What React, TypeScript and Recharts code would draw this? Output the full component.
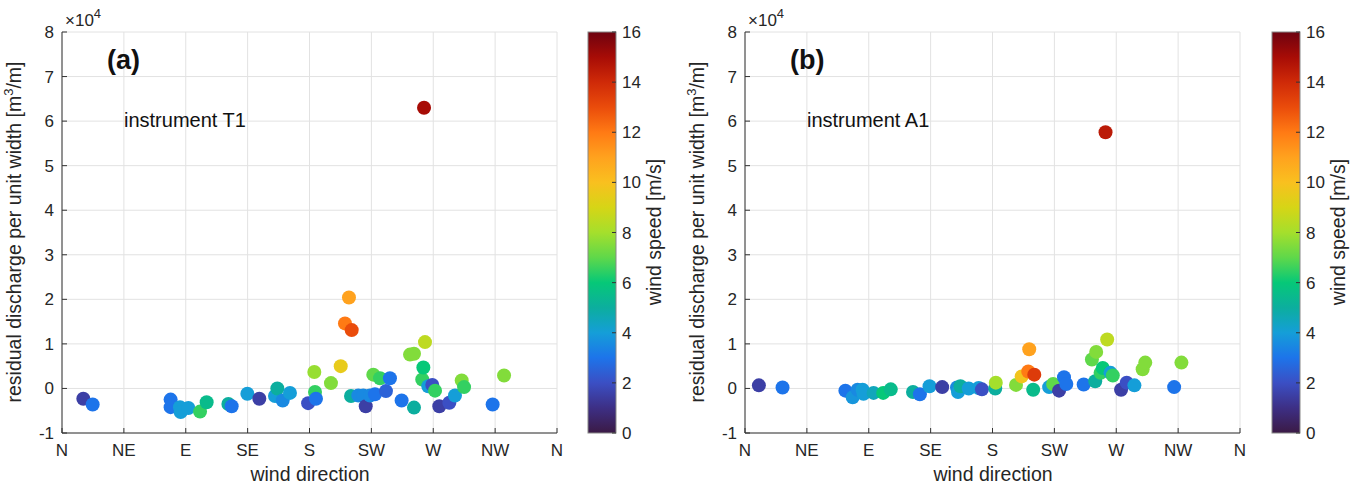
import React from 'react';
import { ScatterChart, Scatter, XAxis, YAxis, CartesianGrid } from 'recharts';

// wind direction axis
const dirTicks = [0, 45, 90, 135, 180, 225, 270, 315, 360];
const dirLabels = ['N', 'NE', 'E', 'SE', 'S', 'SW', 'W', 'NW', 'N'];
const qTicks = [-1, 0, 1, 2, 3, 4, 5, 6, 7, 8];
const speedTicks = [0, 2, 4, 6, 8, 10, 12, 14, 16];

// instrument T1: direction [deg], discharge [x1e4 m3/m], wind speed [m/s]
const t1Dir = [15.5, 22.3, 79, 79, 85.8, 86.3, 91.9, 100.4, 105.2, 121, 123.4, 134.8, 143.5, 154.9, 156.6, 160.5, 165.8, 179, 183.5, 184, 184.7, 195.6, 202.7, 205.8, 208.7, 210.7, 210.2, 215.5, 219.1, 220.9, 224, 226.4, 227.6, 231.3, 235.6, 238.5, 247, 253.1, 256, 256, 262, 262.8, 264, 266.4, 269.3, 271.3, 274.4, 281.7, 285.8, 290.7, 292.4, 313.2, 321.5, 263.3];
const t1Q = [-0.23, -0.36, -0.25, -0.42, -0.42, -0.53, -0.44, -0.52, -0.31, -0.35, -0.4, -0.12, -0.23, -0.17, 0.0, -0.27, -0.1, -0.33, 0.37, -0.08, -0.23, 0.12, 0.5, 1.46, 2.04, 1.31, -0.17, -0.16, -0.16, -0.4, -0.16, 0.31, -0.13, 0.23, -0.06, 0.23, -0.27, 0.76, 0.78, -0.43, 0.2, 0.47, 1.04, 0.05, 0.08, -0.05, -0.4, -0.32, -0.16, 0.18, 0.03, -0.36, 0.29, 6.3];
const t1Wind = [1.5, 3, 3, 3, 4, 4, 4, 6.5, 5.5, 5, 3, 4, 1.5, 4, 5, 3.5, 4, 2, 7.8, 6.5, 3, 7.5, 9.5, 12, 11, 13, 5, 3.5, 3.5, 1.5, 3.5, 7, 3, 6.5, 2.5, 3, 3, 7.5, 7.5, 5, 6.5, 6, 8.5, 4, 2, 6.5, 1.5, 2, 4, 7.5, 6.5, 3, 7.5, 15];

// instrument A1
const a1Dir = [10.1, 27.3, 73, 78.3, 81.9, 85.5, 86.2, 93.5, 100.5, 106, 122.2, 127.2, 134.2, 143.4, 154.2, 154.9, 156.7, 162.7, 169.9, 172.3, 182, 182.4, 197.1, 201.2, 206, 206.7, 210.4, 209.6, 221.2, 224.1, 228.4, 232, 233.7, 246.3, 252.3, 254.7, 255.4, 258.6, 260.2, 263.4, 265.8, 267.5, 273.5, 277.6, 283.2, 289.2, 291.1, 312.1, 317.4, 262.2];
const a1Q = [0.07, 0.02, -0.05, -0.2, -0.03, -0.03, -0.12, -0.1, -0.1, -0.02, -0.08, -0.13, 0.05, 0.03, 0.02, -0.08, 0.05, 0.0, 0.01, -0.02, 0.0, 0.13, 0.08, 0.27, 0.38, 0.88, 0.31, -0.03, 0.03, 0.1, -0.05, 0.25, 0.1, 0.09, 0.65, 0.16, 0.82, 0.35, 0.46, 1.1, 0.35, 0.29, -0.03, 0.13, 0.07, 0.43, 0.58, 0.03, 0.58, 5.75];
const a1Wind = [1.5, 3, 3, 3.8, 3.5, 4, 4, 4.5, 6, 5.5, 5, 3, 4, 1.5, 3.5, 4, 5, 4, 4, 2, 5, 8, 7.5, 9.8, 12, 11, 13.5, 5.5, 4, 7, 1.5, 3, 3, 3, 7, 5, 7.5, 6.5, 6, 8.5, 4, 6.5, 1.5, 2, 4, 7.5, 7.5, 3, 7.5, 14.5];

// colormap, one colour per 1 m/s from 0 to 16
const cmap = ['#3b1a45', '#3d2f85', '#3b4fc4', '#1d74ea', '#159ed8', '#0cae9e', '#06c878', '#5fd84a', '#a5df2c', '#d6d516', '#f9c01f', '#ffa21e', '#ff7a14', '#ea4c0b', '#cf2a08', '#a70c06', '#6e0210'];

const hex = (c: string) => [1, 3, 5].map((i) => parseInt(c.slice(i, i + 2), 16));
const windColor = (v: number) => {
  const t = Math.max(0, Math.min(16, v));
  const i = Math.min(15, Math.floor(t));
  const f = t - i;
  const a = hex(cmap[i]);
  const b = hex(cmap[i + 1]);
  const m = a.map((x, k) => Math.round(x + (b[k] - x) * f));
  return `rgb(${m[0]},${m[1]},${m[2]})`;
};

const AX = '#333';
const FONT = '"Liberation Sans", Arial, sans-serif';
const TICK_FS = 17;
const LABEL_FS = 19.5;

const BottomTick = (p: any) => (
  <g>
    <line x1={p.x} y1={p.y} x2={p.x} y2={p.y - 5} stroke={AX} />
    <text x={p.x} y={p.y + 23} textAnchor="middle" fontSize={TICK_FS} fill="#262626" fontFamily={FONT}>
      {dirLabels[dirTicks.indexOf(p.payload.value)]}
    </text>
  </g>
);
const TopTick = (p: any) => <line x1={p.x} y1={p.y} x2={p.x} y2={p.y + 5} stroke={AX} />;
const LeftTick = (p: any) => (
  <g>
    <line x1={p.x} y1={p.y} x2={p.x + 5} y2={p.y} stroke={AX} />
    <text x={p.x - 8} y={p.y + 6} textAnchor="end" fontSize={TICK_FS} fill="#262626" fontFamily={FONT}>
      {p.payload.value}
    </text>
  </g>
);
const RightTick = (p: any) => <line x1={p.x} y1={p.y} x2={p.x - 5} y2={p.y} stroke={AX} />;

const Dot = (p: any) => <circle cx={p.cx} cy={p.cy} r={7} fill={p.payload.color} />;

const Panel = ({ left, dir, q, wind }: { left: number; dir: number[]; q: number[]; wind: number[] }) => {
  const data = dir.map((d, i) => ({ dir: d, q: q[i], color: windColor(wind[i]) }));
  return (
    <div style={{ position: 'absolute', left, top: 0 }}>
      <ScatterChart width={570} height={486} margin={{ top: 32, right: 13, bottom: 0, left: 0 }}>
        <CartesianGrid stroke="#e2e2e2" />
        <XAxis
          type="number"
          dataKey="dir"
          domain={[0, 360]}
          ticks={dirTicks}
          interval={0}
          height={53}
          tickSize={0}
          tickMargin={0}
          tickLine={false}
          axisLine={{ stroke: AX }}
          tick={(p: any) => <BottomTick {...p} />}
        />
        <XAxis
          xAxisId="top"
          orientation="top"
          type="number"
          domain={[0, 360]}
          ticks={dirTicks}
          interval={0}
          height={0}
          tickSize={0}
          tickMargin={0}
          tickLine={false}
          axisLine={{ stroke: AX }}
          tick={(p: any) => <TopTick {...p} />}
        />
        <YAxis
          type="number"
          dataKey="q"
          domain={[-1, 8]}
          ticks={qTicks}
          interval={0}
          width={62}
          tickSize={0}
          tickMargin={0}
          tickLine={false}
          axisLine={{ stroke: AX }}
          tick={(p: any) => <LeftTick {...p} />}
        />
        <YAxis
          yAxisId="right"
          orientation="right"
          type="number"
          domain={[-1, 8]}
          ticks={qTicks}
          interval={0}
          width={0}
          tickSize={0}
          tickMargin={0}
          tickLine={false}
          axisLine={{ stroke: AX }}
          tick={(p: any) => <RightTick {...p} />}
        />
        <Scatter data={data} isAnimationActive={false} shape={(p: any) => <Dot {...p} />} />
      </ScatterChart>
    </div>
  );
};

const ColorBar = ({ x }: { x: number }) => {
  const top = 32;
  const bottom = 433;
  const w = 28;
  const yOf = (v: number) => bottom - (v / 16) * (bottom - top);
  return (
    <g>
      <rect x={x} y={top} width={w} height={bottom - top} fill="url(#cbgrad)" stroke="#888" strokeWidth={1} />
      {speedTicks.map((v) => (
        <g key={v}>
          <line x1={x + w} y1={yOf(v)} x2={x + w - 4} y2={yOf(v)} stroke={AX} />
          <text x={x + w + 6} y={yOf(v) + 6} fontSize={TICK_FS} fill="#262626">
            {v}
          </text>
        </g>
      ))}
      <text
        transform={`translate(${x + 73}, 232) rotate(-90)`}
        textAnchor="middle"
        fontSize={LABEL_FS}
        fill="#262626"
      >
        wind speed [m/s]
      </text>
    </g>
  );
};

const PanelText = ({ x0, tag, name }: { x0: number; tag: string; name: string }) => (
  <g>
    <text transform={`translate(${x0 - 41}, 232) rotate(-90)`} textAnchor="middle" fontSize={LABEL_FS} fill="#262626">
      residual discharge per unit width [m<tspan dy={-8} fontSize={13}>3</tspan>
      <tspan dy={8}>/m]</tspan>
    </text>
    <text x={x0 + 248} y={481} textAnchor="middle" fontSize={LABEL_FS} fill="#262626">
      wind direction
    </text>
    <text x={x0 + 3} y={26} fontSize={17} fill="#262626">
      ×10<tspan dy={-8} fontSize={13}>4</tspan>
    </text>
    <text x={x0 + 45} y={69} fontSize={27} fontWeight="bold" fill="#111">
      {tag}
    </text>
    <text x={x0 + 62} y={127} fontSize={20} fill="#111">
      {name}
    </text>
  </g>
);

export default function App() {
  return (
    <div style={{ position: 'absolute', left: 0, top: 0, width: 1364, height: 486, background: '#fff', fontFamily: FONT }}>
      <Panel left={0} dir={t1Dir} q={t1Q} wind={t1Wind} />
      <Panel left={683} dir={a1Dir} q={a1Q} wind={a1Wind} />
      <svg width={1364} height={486} style={{ position: 'absolute', left: 0, top: 0, pointerEvents: 'none' }} fontFamily={FONT}>
        <defs>
          <linearGradient id="cbgrad" x1="0" y1="1" x2="0" y2="0">
            {cmap.map((c, i) => (
              <stop key={i} offset={i / 16} stopColor={c} />
            ))}
          </linearGradient>
        </defs>
        <PanelText x0={62} tag="(a)" name="instrument T1" />
        <PanelText x0={745} tag="(b)" name="instrument A1" />
        <ColorBar x={588} />
        <ColorBar x={1272} />
      </svg>
    </div>
  );
}
